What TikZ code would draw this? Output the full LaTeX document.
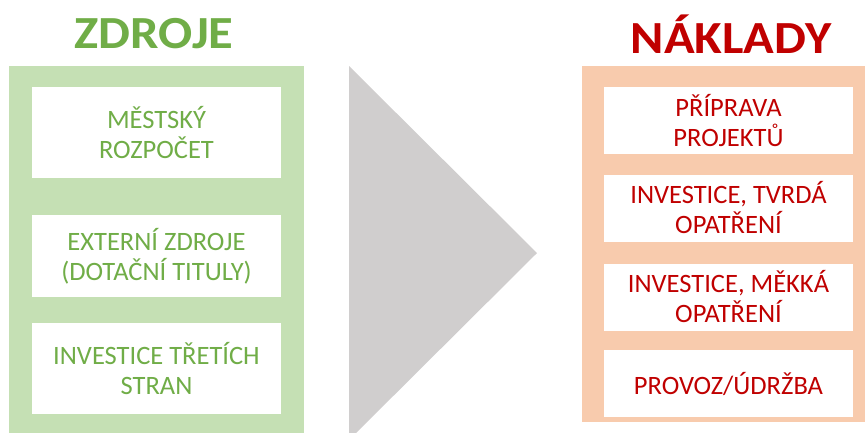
\documentclass[tikz,border=0pt]{standalone}
\usepackage{fontspec}
\setmainfont{Carlito}
\usepackage{tikz}
\usetikzlibrary{positioning}

\definecolor{zdrojgreen}{HTML}{70AD47}
\definecolor{zdrojpanel}{HTML}{C5E0B4}
\definecolor{nakladred}{HTML}{C00000}
\definecolor{nakladpanel}{HTML}{F8CBAD}
\definecolor{arrowgray}{HTML}{D0CECE}

\begin{document}
\begin{tikzpicture}[x=1pt, y=-1pt,
        title/.style={font=\fontsize{46}{50}\selectfont\bfseries, xscale=1.1, transform shape},
        srcbox/.style={fill=white, text=zdrojgreen, align=center, inner sep=0pt,
            minimum width=249pt, font=\fontsize{26.5}{30}\selectfont},
        costbox/.style={fill=white, text=nakladred, align=center, inner sep=0pt,
            minimum width=249pt, minimum height=67pt, font=\fontsize{26.5}{30}\selectfont}]
            \useasboundingbox (0,0) rectangle (865,432);
            \clip (0,0) rectangle (865,432);

            % headings
            \node[title, text=zdrojgreen] (zdroje) at (154,34) {ZDROJE};
            \node[title, text=nakladred] (naklady) at (731,34) {NÁKLADY};

            % panels and the arrow between them
            \fill[zdrojpanel] (9,66) rectangle (304,440);
            \fill[nakladpanel] (582,66) rectangle (875,422);
            \fill[arrowgray] (349,66) -- (537,253) -- (349,440) -- cycle;

            % sources
            \node[srcbox, minimum height=91pt] (rozpocet) at (156.5,132.5) {MĚSTSKÝ\\ROZPOČET};
            \node[srcbox, minimum height=82pt] (externi) at (156.5,256) {EXTERNÍ ZDROJE\\(DOTAČNÍ TITULY)};
            \node[srcbox, minimum height=91pt] (treti) at (156.5,368.5) {INVESTICE TŘETÍCH\\STRAN};

            % costs
            \node[costbox] (priprava) at (728.5,120.5) {PŘÍPRAVA\\PROJEKTŮ};
            \node[costbox] (tvrda) at (728.5,208) {INVESTICE, TVRDÁ\\OPATŘENÍ};
            \node[costbox] (mekka) at (728.5,297) {INVESTICE, MĚKKÁ\\OPATŘENÍ};
            \node[costbox] (provoz) at (728.5,383.5) {PROVOZ/ÚDRŽBA};
        \end{tikzpicture}
\end{document}
